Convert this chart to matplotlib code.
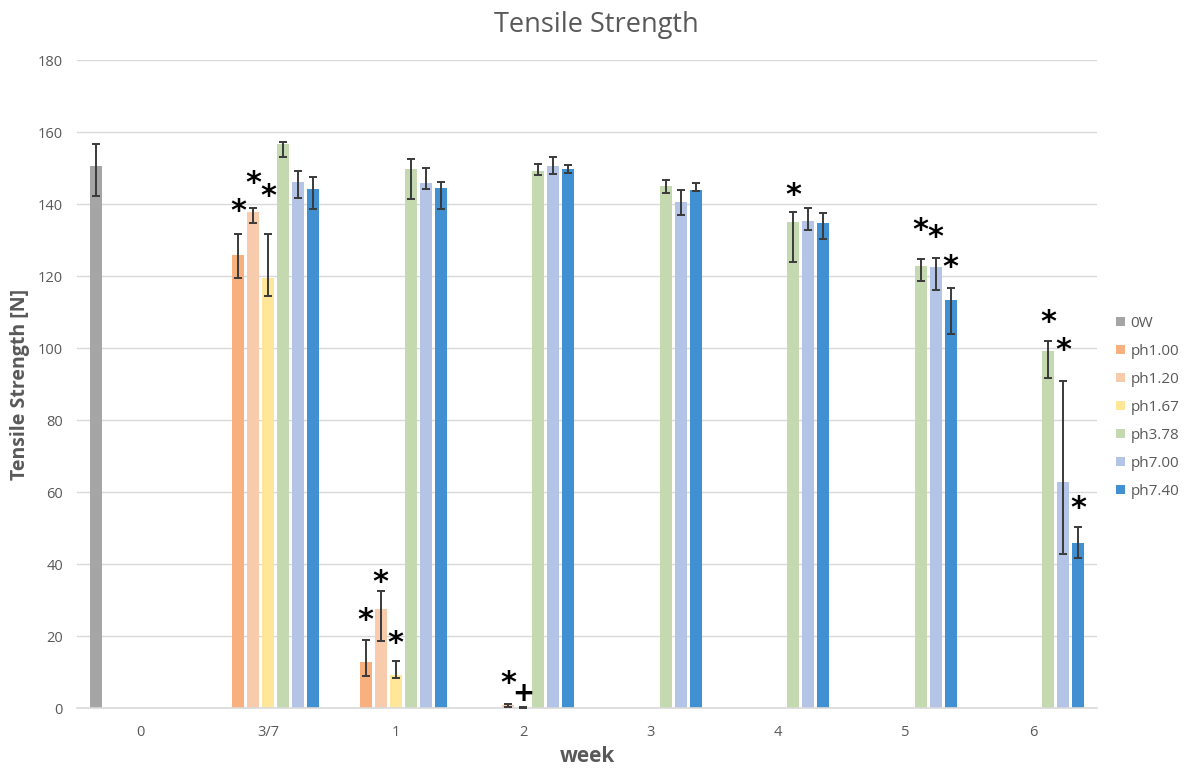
import numpy as np
import matplotlib
matplotlib.use("Agg")
import matplotlib.pyplot as plt
from matplotlib.transforms import offset_copy

plt.rcParams['font.family'] = ['Open Sans', 'DejaVu Sans']

nan = np.nan
weeks = ['0', '3/7', '1', '2', '3', '4', '5', '6']
series = ['0W', 'ph1.00', 'ph1.20', 'ph1.67', 'ph3.78', 'ph7.00', 'ph7.40']
colors = ['#A5A5A5', '#F8B07E', '#F8CBAD', '#FFE699', '#C4D9AF', '#B3C4E6', '#4190D2']

v_0w    = [150.5, nan, nan, nan, nan, nan, nan, nan]
v_ph100 = [nan, 125.8, 12.8, nan, nan, nan, nan, nan]
v_ph120 = [nan, 137.7, 27.5, 0.8, nan, nan, nan, nan]
v_ph167 = [nan, 119.5, 9.2, 0.05, nan, nan, nan, nan]
v_ph378 = [nan, 156.7, 149.7, 149.3, 145.1, 135.1, 122.7, 99.2]
v_ph700 = [nan, 146.2, 145.9, 150.6, 140.5, 135.3, 122.4, 62.7]
v_ph740 = [nan, 144.1, 144.4, 149.6, 144.0, 134.8, 113.3, 45.9]

# error bars: (lower, upper)
lo_0w    = [8.3, 0, 0, 0, 0, 0, 0, 0]
hi_0w    = [6.3, 0, 0, 0, 0, 0, 0, 0]
lo_ph100 = [0, 6.4, 3.8, 0, 0, 0, 0, 0]
hi_ph100 = [0, 5.8, 6.1, 0, 0, 0, 0, 0]
lo_ph120 = [0, 3.1, 9.0, 0.4, 0, 0, 0, 0]
hi_ph120 = [0, 1.1, 5.1, 0.4, 0, 0, 0, 0]
lo_ph167 = [0, 5.1, 1.0, 0.0, 0, 0, 0, 0]
hi_ph167 = [0, 12.2, 3.9, 0.3, 0, 0, 0, 0]
lo_ph378 = [0, 3.7, 8.4, 1.2, 2.1, 11.3, 4.1, 7.6]
hi_ph378 = [0, 0.4, 2.7, 1.7, 1.7, 2.8, 1.9, 2.7]
lo_ph700 = [0, 4.4, 1.7, 2.3, 3.6, 2.5, 6.3, 19.9]
hi_ph700 = [0, 3.0, 4.2, 2.5, 3.3, 3.5, 2.5, 28.2]
lo_ph740 = [0, 5.5, 5.8, 1.0, 0.3, 4.6, 9.5, 4.3]
hi_ph740 = [0, 3.3, 1.6, 1.2, 1.9, 2.6, 3.3, 4.4]

values = [v_0w, v_ph100, v_ph120, v_ph167, v_ph378, v_ph700, v_ph740]
err_lo = [lo_0w, lo_ph100, lo_ph120, lo_ph167, lo_ph378, lo_ph700, lo_ph740]
err_hi = [hi_0w, hi_ph100, hi_ph120, hi_ph167, hi_ph378, hi_ph700, hi_ph740]

# significance marks: (week index, series index, y level, symbol)
marks = [(1, 1, 139.4, '*'), (1, 2, 147.2, '*'), (1, 3, 143.6, '*'),
         (2, 1, 25.8, '*'), (2, 2, 36.4, '*'), (2, 3, 19.4, '*'),
         (3, 2, 8.3, '*'), (3, 3, 4.2, '+'),
         (5, 4, 143.9, '*'),
         (6, 4, 134.2, '*'), (6, 5, 132.2, '*'), (6, 6, 123.9, '*'),
         (7, 4, 108.6, '*'), (7, 5, 100.8, '*'), (7, 6, 56.9, '*')]

fig = plt.figure(figsize=(11.84, 7.68), dpi=100)
ax = fig.add_axes([77/1184, 1-708/768, 1020/1184, 648/768])

x = np.arange(len(weeks))
slot = 0.1176
bw = 0.092
handles = []
for i, (name, col) in enumerate(zip(series, colors)):
    vals = np.array(values[i], dtype=float)
    lo = np.array(err_lo[i], dtype=float)
    hi = np.array(err_hi[i], dtype=float)
    pos = x + (i - 3) * slot
    m = ~np.isnan(vals)
    b = ax.bar(pos[m], vals[m], width=bw, color=col, label=name, zorder=2)
    handles.append(b)
    ax.errorbar(pos[m], vals[m], yerr=[lo[m], hi[m]], fmt='none',
                ecolor='#3A3A3A', elinewidth=1.4, capsize=3, capthick=1.4, zorder=3)

trans_star = offset_copy(ax.transData, fig=fig, x=0, y=-4, units='points')
trans_plus = offset_copy(ax.transData, fig=fig, x=0, y=-1, units='points')
for wk, si, yv, sym in marks:
    px = x[wk] + (si - 3) * slot
    if sym == '*':
        ax.text(px, yv, sym, ha='center', va='center', fontsize=22, fontweight='bold',
                color='black', transform=trans_star, family='DejaVu Sans')
    else:
        ax.text(px, yv, sym, ha='center', va='center', fontsize=19, fontweight='bold',
                color='black', transform=trans_plus, family='DejaVu Sans')

ax.set_xlim(-0.5, len(weeks) - 0.5)
ax.set_ylim(0, 180)
ax.set_yticks(np.arange(0, 181, 20))
ax.set_xticks(x)
ax.set_xticklabels(weeks)
ax.tick_params(axis='both', length=0, labelsize=10.5, labelcolor='#595959')
ax.tick_params(axis='x', pad=12)
ax.tick_params(axis='y', pad=10)
ax.grid(axis='y', color='#D9D9D9', linewidth=1, zorder=0)
ax.set_axisbelow(True)
for s in ['top', 'right', 'left']:
    ax.spines[s].set_visible(False)
ax.spines['bottom'].set_color('#D9D9D9')
ax.spines['bottom'].set_linewidth(1.2)

fig.text(596/1184, 1-25/768, 'Tensile Strength', ha='center', va='center',
         fontsize=19.5, color='#595959')
fig.text(20/1184, 1-384/768, 'Tensile Strength [N]', ha='center', va='center',
         rotation=90, fontsize=14, fontweight='bold', color='#595959')
fig.text(587/1184, 1-756/768, 'week', ha='center', va='center',
         fontsize=15, fontweight='bold', color='#595959')

leg = fig.legend(handles=handles, labels=series, loc='upper left',
                 bbox_to_anchor=(1116/1184, 1-316/768), frameon=False,
                 handlelength=0.6, handleheight=0.6, handletextpad=0.35,
                 labelspacing=0.85, fontsize=11, borderaxespad=0, borderpad=0)
for t in leg.get_texts():
    t.set_color('#595959')

fig.savefig('out.png', dpi=100)
